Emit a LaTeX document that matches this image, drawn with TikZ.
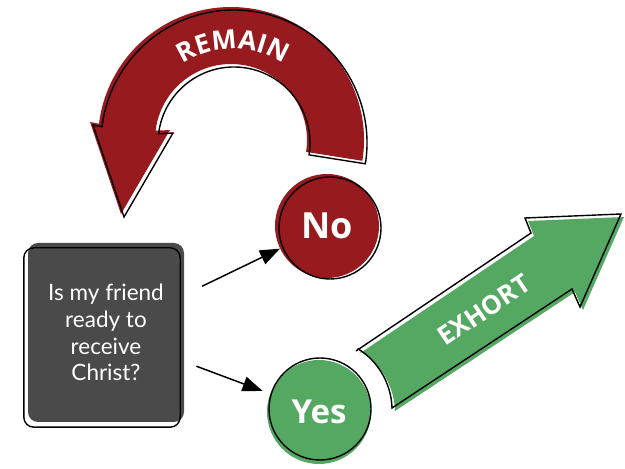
\documentclass[tikz,border=0pt]{standalone}
\usepackage{fontspec}
\newfontfamily\osfont{Open Sans}
\newfontfamily\latofont{Lato}
\usetikzlibrary{arrows.meta,decorations.text}
\definecolor{remRed}{HTML}{971B1E}
\definecolor{exGreen}{HTML}{55A862}
\definecolor{boxGray}{HTML}{4A4A4A}
\begin{document}
\begin{tikzpicture}[x=1pt,y=1pt,
  outline/.style={draw=black,line width=1.4pt,line join=miter},
  redpath/.style={insert path={([shift={(231,329)}]-9:133) arc[start angle=-9,end angle=173,radius=133] -- (90,347) -- (121,255) -- (170,339) -- ([shift={(231,329)}]173:76) arc[start angle=173,end angle=-9,radius=76] -- cycle}},
  greenpath/.style={insert path={(356,118) -- (531,236) -- (525,251) -- (621,255) -- (580,162) -- (572,180) -- (392,61) arc[start angle=1.6,end angle=58,radius=72] -- cycle}},
  disc/.style={circle,minimum size=104pt,inner sep=0pt,text=white},
  boxnode/.style={fill=boxGray,rounded corners=10pt,minimum width=156pt,minimum height=179pt,inner sep=0pt,text=white,align=center,font=\latofont\fontsize{22.5}{26.7}\selectfont},
  conn/.style={line width=1.5pt,-{Triangle[length=20pt,width=15pt]}}
]
\useasboundingbox (0,0) rectangle (625,469);
% REMAIN arrow
\path[fill=remRed,redpath];
\path[outline,xshift=3pt,yshift=-3pt,redpath];
\path[decorate,decoration={text along path,text={|\osfont\bfseries\fontsize{26.5}{26.5}\selectfont|REMAIN},text align=center,text color=white}] ([shift={(233,329)}]152:91) arc[start angle=152,end angle=28,radius=91];
% No
\node[disc,fill=remRed,font=\osfont\bfseries\fontsize{36}{36}\selectfont] (no) at (327,243) {No};
\draw[outline] ([shift={(3,-2)}]no.center) circle[radius=51];
% box
\node[boxnode] (box) at (106,136.5) {Is my friend\\ready to\\receive\\Christ?};
\draw[outline,rounded corners=10pt] ([shift={(-4,-5)}]box.south west) rectangle ([shift={(-4,-5)}]box.north east);
% Yes
\node[disc,fill=exGreen,font=\osfont\bfseries\fontsize{33}{33}\selectfont] (yes) at (319,57) {Yes};
\draw[outline] ([shift={(1,3)}]yes.center) circle[radius=51];
% connectors
\draw[conn,shorten <=20pt] (box) -- (no);
\draw[conn,shorten <=13pt,shorten >=8pt] (box) -- (yes);
% EXHORT arrow
\path[fill=exGreen,xshift=3pt,yshift=-3pt,greenpath];
\path[outline,greenpath];
\node[rotate=34,text=white,font=\osfont\bfseries\fontsize{26}{26}\selectfont] (exhort) at (484,159) {EXHORT};
\end{tikzpicture}
\end{document}
